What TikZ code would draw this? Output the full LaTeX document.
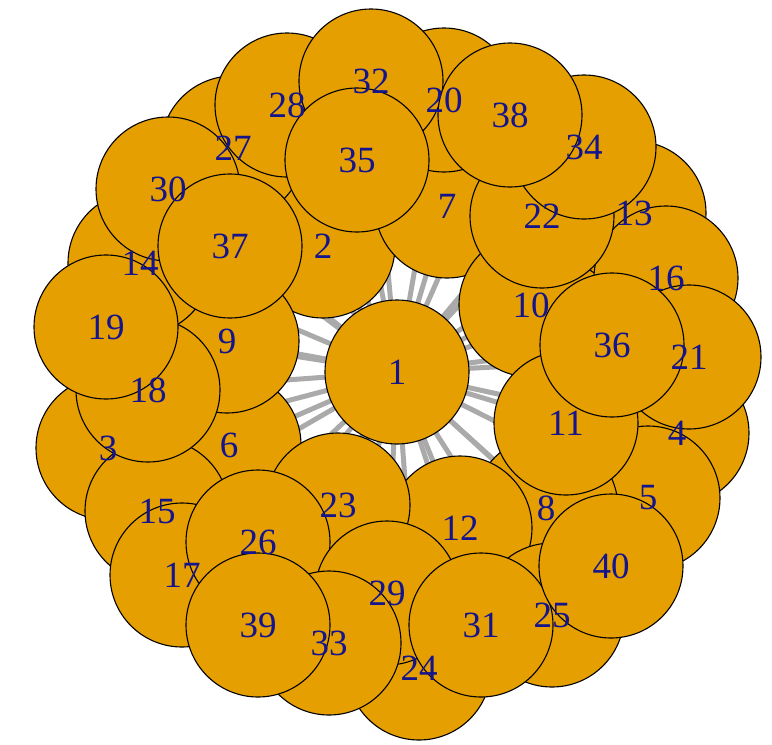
\documentclass[tikz,border=0pt]{standalone}
\usepackage{fontspec}
\setmainfont{Liberation Serif}
\usepackage{tikz}
\usetikzlibrary{backgrounds}
\definecolor{vtxorange}{RGB}{230,159,0}
\definecolor{lbldarkblue}{RGB}{20,20,140}
\definecolor{edgegrey}{RGB}{170,170,170}
\tikzset{
  vtx/.style={circle, draw=black, fill=vtxorange, line width=1.1pt, minimum size=144pt, inner sep=0pt},
  lbl/.style={text=lbldarkblue, font=\fontsize{37}{37}\selectfont, inner sep=0pt},
  edge/.style={draw=edgegrey, line width=5pt},
}

\begin{document}
\begin{tikzpicture}[x=1pt,y=-1pt]
  \useasboundingbox (0,0) rectangle (772,745);
  % vertices, drawn in order 1..40
  \foreach \n/\x/\y in {1/397/372,2/323/246,3/108/448,4/677/433,5/648/498,6/229/445,7/447/206,8/546/508,
     9/227/341,10/531/305,11/566/423,12/460/528,13/634/213,14/140/263,15/157/511,16/666/278,
     17/182/575,18/148/390,19/106/327,20/444/100,21/689/357,22/542/216,23/338/505,24/419/668,
     25/552/615,26/258/542,27/233/148,28/287/105,29/387/593,30/168/189,31/481/625,32/371/81,
     33/329/643,34/584/147,35/357/160,36/612/345,37/230/246,38/510/115,39/258/625,40/611/566}{
    \node[vtx] (v\n) at (\x,\y) {};
  }
  % edges from the hub
  \begin{pgfonlayer}{background}
    \foreach \n in {2,...,40}{\draw[edge] (v1.center) -- (v\n.center);}
  \end{pgfonlayer}
  % labels on top
  \foreach \n in {1,...,40}{\node[lbl] (t\n) at (v\n) {\n};}
\end{tikzpicture}
\end{document}
